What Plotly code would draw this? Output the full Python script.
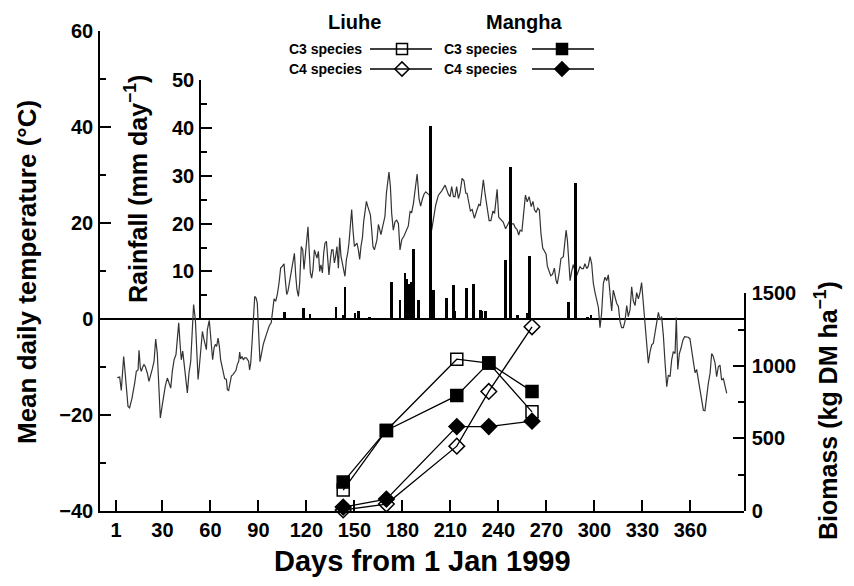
import plotly.graph_objects as go

# ---------------- data ----------------
temp_day = [1.8, 3.3, 4.3, 5.8, 6.4, 7.5, 8.5, 9.5, 11.0, 12.7, 13.7, 14.8, 15.4, 16.2, 16.8, 17.7, 18.5, 19.3,
            20.6, 21.6, 22.5, 23.7, 24.8, 25.8, 26.8, 27.7, 28.7, 29.8, 30.8, 31.8, 33.1, 34.3, 35.2, 36.2, 37.3,
            38.5, 39.3, 40.2, 41.0, 41.8, 42.7, 43.5, 44.5, 45.6, 46.6, 47.7, 48.5, 49.5, 50.6, 51.4, 52.3, 53.1,
            53.9, 55.0, 55.8, 56.6, 57.5, 58.1, 58.9, 59.3, 59.8, 60.6, 61.4, 62.3, 63.1, 63.9, 64.8, 65.6, 66.4,
            67.3, 68.1, 68.9, 70.0, 70.6, 71.4, 72.3, 73.1, 74.1, 75.2, 76.0, 76.8, 77.7, 78.3, 78.9, 79.8, 80.6,
            81.4, 82.5, 83.3, 83.9, 84.5, 85.2, 86.0, 86.8, 87.7, 88.5, 89.3, 91.0, 93.1, 95.2, 96.8, 98.0, 98.9,
            99.8, 100.8, 101.8, 102.9, 103.9, 105.0, 106.0, 106.8, 107.7, 108.5, 109.3, 110.4, 111.4, 112.5, 113.3,
            114.1, 115.0, 115.8, 116.8, 117.7, 118.5, 119.3, 120.2, 121.0, 121.6, 122.5, 123.3, 124.1, 125.0, 125.8,
            126.6, 127.5, 128.3, 129.1, 130.0, 130.8, 131.6, 132.5, 133.3, 134.1, 135.0, 135.8, 136.6, 137.5, 138.3,
            139.1, 140.0, 140.8, 141.6, 142.5, 143.3, 144.1, 145.0, 145.8, 146.6, 147.5, 148.3, 149.1, 150.0, 150.8,
            151.6, 152.5, 153.3, 154.1, 155.0, 155.8, 156.6, 157.5, 158.3, 159.1, 160.0, 160.8, 161.6, 162.5, 163.3,
            164.1, 165.0, 165.8, 166.6, 167.5, 168.3, 169.1, 170.0, 170.8, 171.6, 172.5, 173.3, 174.3, 175.4, 176.4,
            177.5, 178.5, 179.6, 181.0, 182.3, 183.7, 184.8, 185.8, 186.9, 188.3, 189.2, 190.4, 191.4, 192.5, 193.5,
            194.6, 195.6, 196.9, 198.3, 199.8, 200.8, 202.5, 204.6, 206.7, 207.7, 208.7, 209.8, 210.8, 211.9, 212.9,
            213.9, 215.0, 216.0, 217.3, 218.5, 219.6, 220.4, 221.2, 222.5, 223.6, 225.0, 226.4, 227.8, 228.7, 229.6,
            230.6, 231.7, 232.9, 234.2, 235.3, 236.6, 237.6, 238.5, 239.2, 240.2, 241.5, 243.0, 244.5, 245.6, 246.8,
            248.3, 249.5, 250.6, 251.6, 252.7, 253.6, 254.7, 255.9, 256.9, 258.0, 259.2, 260.5, 261.6, 262.5, 263.6,
            264.6, 265.6, 266.6, 267.7, 268.7, 269.8, 270.6, 271.6, 272.7, 273.8, 275.0, 276.0, 276.8, 278.1, 279.1,
            280.6, 281.6, 282.3, 283.1, 283.9, 284.8, 285.8, 286.8, 287.9, 288.9, 290.0, 291.0, 292.1, 293.1, 294.1,
            295.2, 296.2, 297.3, 298.3, 299.3, 300.4, 301.4, 302.5, 303.5, 304.5, 305.6, 306.6, 307.7, 308.7, 309.8,
            310.8, 311.8, 312.9, 313.9, 315.0, 316.0, 317.0, 318.1, 319.1, 320.2, 321.2, 322.3, 323.3, 324.3, 325.4,
            326.4, 327.5, 328.5, 329.5, 330.6, 331.6, 332.7, 333.7, 334.8, 335.8, 336.8, 337.9, 338.9, 340.0, 341.0,
            342.0, 343.1, 344.1, 345.2, 346.2, 347.3, 348.3, 349.3, 350.4, 351.2, 352.1, 353.1, 354.2, 355.3, 356.4,
            357.5, 358.6, 359.7, 360.8, 361.8, 362.9, 363.9, 365.0, 366.0, 367.0, 368.1, 369.1, 370.2, 371.2, 372.3,
            373.3, 374.3, 375.4, 376.4, 377.5, 378.5, 379.5, 380.6, 381.6, 382.7]
temp_c = [-12.2, -12.1, -14.9, -7.8, -10.0, -14.0, -18.2, -18.5, -16.5, -13.3, -10.9, -10.6, -6.5, -10.2, -10.9,
          -10.0, -9.5, -9.9, -11.3, -13.0, -11.6, -10.4, -8.8, -4.2, -7.1, -13.3, -20.6, -18.2, -15.8, -14.0, -12.3,
          -13.3, -14.4, -10.9, -8.5, -7.4, -4.7, -0.8, -5.0, -8.5, -6.7, -9.2, -12.6, -15.4, -11.3, -8.8, -3.6, 3.0,
          -0.1, -7.8, -12.6, -9.9, -6.4, -2.6, -4.0, -5.3, -6.4, -2.2, -0.8, -0.3, -2.2, -5.0, -8.5, -6.0, -5.3, -5.7,
          -4.0, -5.7, -8.5, -9.9, -11.6, -12.4, -12.6, -14.7, -14.9, -13.3, -11.9, -11.6, -10.9, -10.7, -9.5, -8.8,
          -6.9, -8.3, -7.8, -8.5, -8.1, -8.1, -8.5, -8.8, -10.6, -9.2, -5.0, 0.6, 4.7, 4.4, 3.3, -8.9, -5.2, -3.0,
          -1.4, -0.8, 1.2, 4.2, 3.7, 5.1, 7.5, 10.6, 11.0, 11.5, 8.2, 5.1, 5.8, 7.5, 9.2, 11.3, 13.7, 9.2, 6.1, 4.7,
          7.5, 15.1, 14.4, 10.3, 13.7, 17.6, 19.2, 15.1, 9.6, 8.5, 10.3, 14.4, 13.7, 12.7, 14.1, 9.9, 11.3, 9.6, 13.7,
          15.8, 16.2, 13.1, 9.2, 12.4, 14.4, 14.4, 11.7, 13.1, 15.1, 10.6, 16.9, 13.1, 11.7, 10.3, 8.9, 12.4, 13.7,
          15.8, 20.0, 22.8, 18.6, 15.1, 15.5, 15.8, 14.4, 12.4, 15.1, 16.9, 20.3, 22.1, 24.5, 23.5, 22.4, 21.7, 18.6,
          15.1, 14.4, 15.5, 16.5, 19.7, 18.6, 17.6, 19.0, 20.3, 21.4, 26.2, 28.3, 30.6, 27.6, 22.0, 18.5, 20.3, 20.6,
          19.9, 14.4, 16.5, 17.3, 18.5, 19.4, 22.4, 22.2, 24.1, 27.6, 30.2, 25.0, 23.5, 25.0, 26.0, 26.5, 26.2, 25.8,
          18.5, 21.5, 23.7, 25.8, 26.7, 27.9, 26.9, 26.0, 25.5, 27.6, 25.5, 25.5, 27.6, 25.1, 26.2, 29.3, 28.8, 26.2,
          26.2, 25.0, 22.5, 22.8, 21.0, 22.5, 23.9, 23.6, 26.2, 29.0, 26.0, 22.8, 20.5, 20.5, 22.5, 22.0, 25.0, 27.0,
          21.2, 20.8, 20.2, 18.8, 19.6, 20.3, 19.8, 19.8, 19.0, 18.7, 17.5, 18.5, 18.3, 22.0, 25.8, 24.4, 25.5, 23.4,
          24.5, 22.8, 22.2, 23.1, 22.7, 17.8, 14.8, 14.2, 13.5, 11.0, 9.9, 9.0, 9.3, 10.6, 8.1, 7.3, 9.9, 12.6, 13.0,
          15.8, 18.5, 16.5, 12.3, 8.0, 9.9, 11.3, 10.0, 9.0, 10.0, 10.9, 10.5, 10.5, 11.5, 10.5, 11.0, 13.0, 11.5,
          7.5, 5.5, 4.2, 2.4, -1.8, 1.2, 7.4, 8.7, 8.0, 9.2, 5.2, 1.7, 6.0, 4.5, 3.3, 2.6, -0.5, -1.8, -1.8, -0.5,
          2.8, 0.5, 2.0, 6.7, 3.8, 2.8, 5.5, 4.2, 5.5, 7.6, 3.5, 0.2, -5.4, -9.2, -6.8, -5.4, -5.1, -2.2, -0.8, 1.4,
          -0.2, 0.5, -3.4, -8.8, -14.1, -11.7, -12.0, -8.5, -6.8, -7.2, 0.3, -10.5, -7.2, -6.0, -4.4, -3.7, -3.7,
          -3.8, -4.1, -6.5, -9.0, -11.2, -10.5, -12.8, -15.2, -16.9, -19.0, -19.1, -15.8, -13.4, -11.3, -7.2, -7.8,
          -9.2, -12.0, -9.9, -9.6, -12.7, -12.4, -14.1, -15.5]

rain_day = [106.4, 118.0, 122.3, 134.8, 138.5, 143.1, 144.1, 150.4, 152.5, 159.5, 173.3, 178.5, 181.6, 182.9,
            184.1, 185.6, 186.9, 190.0, 197.4, 199.5, 207.7, 211.8, 212.9, 220.2, 224.4, 228.7, 229.6, 231.8,
            244.3, 247.7, 251.9, 258.3, 259.4, 262.4, 284.0, 288.3, 295.7, 297.9]
rain_mm = [1.5, 2.3, 1.1, 0.2, 2.5, 1.0, 6.7, 1.4, 1.7, 0.4, 7.8, 4.0, 9.7, 8.5, 7.3, 7.8, 14.7, 4.0, 40.4, 6.2,
           4.4, 7.2, 1.7, 6.6, 7.4, 1.9, 1.7, 1.8, 12.4, 31.9, 0.8, 1.4, 13.3, 0.1, 3.6, 28.4, 0.4, 0.9]

sample_day = [143, 170, 214, 234, 261]
liuhe_c3 = [144, 555, 1046, 1019, 683]
mangha_c3 = [199, 555, 795, 1019, 824]
liuhe_c4 = [7, 48, 447, 824, 1269]
mangha_c4 = [27, 82, 582, 582, 619]

day_ticks = [1, 30, 60, 90, 120, 150, 180, 210, 240, 270, 300, 330, 360]

# ---------------- layout helpers ----------------
# the page body has an 8 px margin, so the figure is drawn 8 px in from the window corner
OFF = 8
W, H = 854 - 2 * OFF, 586 - 2 * OFF
FONT = "Liberation Sans, Arial, Helvetica, sans-serif"
# plot area in window pixels: x 100..744, y 31..511
X0, X1, Y0, Y1 = 100, 744, 31, 511
ML, MR, MT, MB = X0 - OFF, W - (X1 - OFF), Y0 - OFF, H - (Y1 - OFF)
PW, PH = X1 - X0, Y1 - Y0


def px(x):
    return (x - X0) / PW


def py(y):
    return (Y1 - y) / PH


fig = go.Figure()

fig.add_trace(go.Scatter(x=temp_day, y=temp_c, mode="lines",
                         line=dict(color="#333333", width=1.2), xaxis="x", yaxis="y",
                         showlegend=False, hoverinfo="skip"))

fig.add_trace(go.Bar(x=rain_day, y=rain_mm, width=1.7, marker=dict(color="black", line=dict(width=0)),
                     xaxis="x", yaxis="y2", showlegend=False))

series = [
    (liuhe_c3, "square-open"),
    (mangha_c3, "square"),
    (liuhe_c4, "diamond-open"),
    (mangha_c4, "diamond"),
]
for vals, sym in series:
    fig.add_trace(go.Scatter(x=sample_day, y=vals, mode="lines+markers", xaxis="x", yaxis="y3",
                             line=dict(color="black", width=1.3),
                             marker=dict(symbol=sym, size=12, color="black", line=dict(color="black", width=1.5)),
                             cliponaxis=False, showlegend=False))

# legend samples (layout positions, window pixels of the overlay axes)
leg = [
    (370, 432, 402, 49, "square-open"),
    (370, 432, 402, 69, "diamond-open"),
    (532, 594, 562, 49, "square"),
    (532, 594, 562, 69, "diamond"),
]
for x0, x1, xm, yy, sym in leg:
    fig.add_trace(go.Scatter(x=[x0, x1], y=[yy, yy], mode="lines", xaxis="x2", yaxis="y4",
                             line=dict(color="black", width=1.3), showlegend=False, hoverinfo="skip",
                             cliponaxis=False))
    fig.add_trace(go.Scatter(x=[xm], y=[yy], mode="markers", xaxis="x2", yaxis="y4",
                             marker=dict(symbol=sym, size=11, color="black", line=dict(color="black", width=1.5)),
                             showlegend=False, hoverinfo="skip", cliponaxis=False))

tickfont = dict(family=FONT, size=20, color="black", weight="bold")
common = dict(showgrid=False, showline=True, linecolor="black", linewidth=1.5, ticks="inside",
              tickcolor="black", tickwidth=1.5, ticklen=11, tickfont=tickfont, automargin=False)
minor = dict(ticks="inside", ticklen=6, tickcolor="black", tickwidth=1.5, showgrid=False)

fig.update_layout(
    width=W, height=H,
    margin=dict(l=ML, r=MR, t=MT, b=MB, pad=0, autoexpand=False),
    paper_bgcolor="white", plot_bgcolor="rgba(0,0,0,0)",
    bargap=0,
    xaxis=dict(domain=[0, 1], range=[-9, 393.5], tickvals=day_ticks, anchor="y", zeroline=False,
               ticklabelstandoff=0, **common),
    yaxis=dict(domain=[0, 1], range=[-40, 60], tick0=0, dtick=20, zeroline=True, zerolinecolor="black",
               zerolinewidth=1.5, ticklabelstandoff=1, minor=dict(dtick=10, **minor), **common),
    yaxis2=dict(domain=[py(319.3), py(80)], range=[0, 50], tickvals=[10, 20, 30, 40, 50], anchor="free",
                position=px(200), zeroline=False, ticklabelstandoff=1, minor=dict(dtick=5, **minor), **common),
    yaxis3=dict(domain=[0, py(293.3)], range=[0, 1500], tickvals=[0, 500, 1000, 1500], side="right",
                anchor="x", zeroline=False, ticklabelstandoff=2, minor=dict(dtick=250, **minor), **common),
    xaxis2=dict(overlaying="x", range=[X0, X1], visible=False, anchor="y4"),
    yaxis4=dict(overlaying="y", range=[Y1, Y0], visible=False, anchor="x2"),
)

title_font = dict(family=FONT, size=26, color="black", weight="bold")
xtitle_font = dict(family=FONT, size=29, color="black", weight="bold")
rain_font = dict(family=FONT, size=25, color="black", weight="bold")
bio_font = dict(family=FONT, size=25, color="black", weight="bold")
head_font = dict(family=FONT, size=20, color="black", weight="bold")
item_font = dict(family=FONT, size=14, color="black", weight="bold")
ann = [
    dict(text="Mean daily temperature (°C)", x=px(27), y=py(272), textangle=-90, font=title_font),
    dict(text="Rainfall (mm day<sup>−1</sup>)", x=px(136), y=py(189), textangle=-90, font=rain_font),
    dict(text="Biomass (kg DM ha<sup>−1</sup>)", x=px(826), y=py(411), textangle=-90, font=bio_font),
    dict(text="Days from 1 Jan 1999", x=px(422), y=py(561), font=xtitle_font),
    dict(text="Liuhe", x=px(354), y=py(22), font=head_font),
    dict(text="Mangha", x=px(524), y=py(22), font=head_font),
    dict(text="C3 species", x=px(364), y=py(49), xanchor="right", font=item_font),
    dict(text="C4 species", x=px(364), y=py(69), xanchor="right", font=item_font),
    dict(text="C3 species", x=px(519), y=py(49), xanchor="right", font=item_font),
    dict(text="C4 species", x=px(519), y=py(69), xanchor="right", font=item_font),
]
for a in ann:
    a.setdefault("xanchor", "center")
    fig.add_annotation(xref="paper", yref="paper", showarrow=False, yanchor="middle", **a)

fig.write_html("out.html")
